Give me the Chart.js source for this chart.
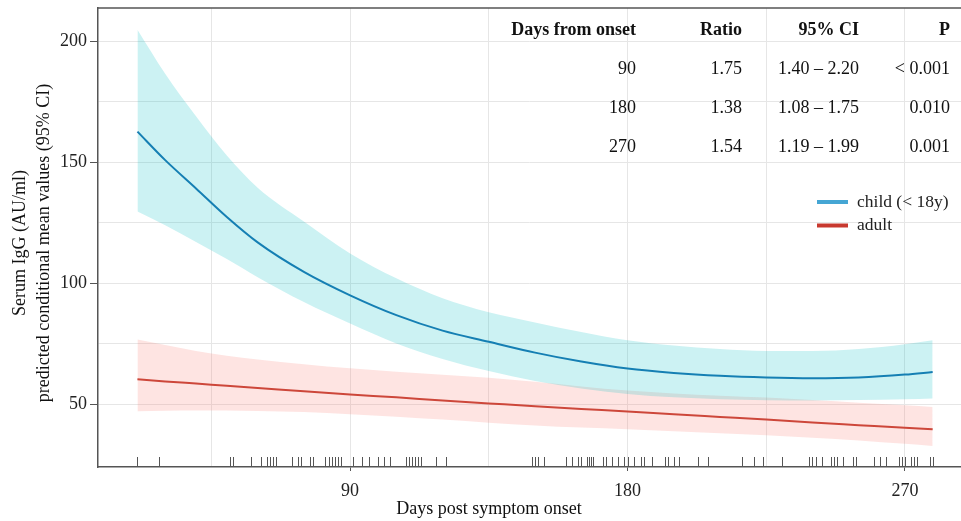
<!DOCTYPE html>
<html><head><meta charset="utf-8">
<script src="https://cdn.jsdelivr.net/npm/chart.js@4.4.1/dist/chart.umd.min.js"></script>
<style>html,body{margin:0;padding:0;background:#fff;}</style>
</head><body>
<canvas id="c" width="961" height="521"></canvas>
<script>
// ---- data ----
const days       = [21, 30, 40, 50, 60, 75, 90, 105, 120, 135, 150, 165, 180, 195, 210, 225, 240, 255, 270, 279];
const childMean  = [162.7, 150.9, 139.2, 127.4, 116.9, 104.7, 95.0, 86.8, 80.4, 75.8, 71.3, 67.6, 64.7, 62.9, 61.7, 61.0, 60.7, 61.0, 62.2, 63.3];
const childUpper = [204.8, 186.6, 169.0, 152.8, 139.5, 125.5, 112.3, 102.0, 93.8, 88.0, 83.8, 79.8, 76.4, 74.2, 72.8, 72.0, 72.0, 72.8, 74.8, 76.4];
const childLower = [129.6, 124.0, 117.0, 110.0, 102.5, 92.2, 83.3, 75.1, 68.7, 63.7, 59.6, 56.5, 54.2, 52.8, 52.0, 51.6, 51.5, 51.7, 52.0, 52.3];
const adultMean  = [60.3, 59.4, 58.5, 57.6, 56.7, 55.3, 54.0, 52.8, 51.5, 50.3, 49.1, 48.0, 47.0, 45.8, 44.7, 43.6, 42.4, 41.3, 40.2, 39.6];
const adultUpper = [76.7, 74.4, 72.0, 70.0, 68.5, 66.5, 64.8, 63.4, 62.1, 60.9, 59.2, 57.3, 55.6, 54.4, 53.5, 52.7, 51.7, 50.6, 49.5, 48.8];
const adultLower = [47.1, 47.3, 47.4, 47.4, 47.2, 46.7, 45.8, 44.8, 43.6, 42.3, 41.2, 40.3, 39.6, 38.8, 38.0, 37.1, 36.1, 35.0, 33.6, 32.7];
const rugDays = [21, 28, 51, 52, 58, 61, 63, 64, 65, 66, 71, 73, 74, 77, 78, 82, 83, 84, 85, 86, 87, 91, 94, 96, 99, 101, 103,
                 108, 109, 110, 111, 112, 113, 118, 121, 149, 150, 151, 153, 160, 162, 164, 165, 166.8, 167.4, 168.1, 168.7,
                 172, 173, 175, 177, 179, 180, 182, 184.3, 185.3, 188, 192.1, 193, 195, 196.7, 203, 206, 217, 221, 224, 230,
                 239, 240, 241, 243, 246, 247, 248, 250, 253, 254, 260, 262, 264, 268, 269, 270, 272, 273, 274, 278, 279];
const xMajorTicks = [90, 180, 270];
const xMinorTicks = [45, 135, 225];
const yMajorTicks = [50, 100, 150, 200];
const yMinorTicks = [75, 125, 175];
const seriesNames = ['child (< 18y)', 'adult'];
const tableHeader = ['Days from onset', 'Ratio', '95% CI', 'P'];
const tableDays   = ['90', '180', '270'];
const tableRatio  = ['1.75', '1.38', '1.54'];
const tableCI     = ['1.40 – 2.20', '1.08 – 1.75', '1.19 – 1.99'];
const tableP      = ['< 0.001', '0.010', '0.001'];
const xTitle = 'Days post symptom onset';
const yTitle = ['Serum IgG (AU/ml)', 'predicted conditional mean values (95% CI)'];

// ---- styles ----
const SERIF = "'Liberation Serif', 'Times New Roman', serif";
const CHILD_LINE = '#1b70b0', ADULT_LINE = '#c23b2e';
const CHILD_LEG = '#45a6d4', ADULT_LEG = '#c8392f';
const CHILD_BAND = 'rgba(0,191,196,0.2)', ADULT_BAND = 'rgba(248,118,109,0.2)';
const AXIS = '#555555', GRID = '#e6e6e6', TXT = '#222222';

const pts = arr => days.map((d, i) => ({x: d, y: arr[i]}));
const band = (arr, color, fill) => ({data: pts(arr), borderColor: 'transparent', borderWidth: 0, pointRadius: 0,
  backgroundColor: color, fill: fill, cubicInterpolationMode: 'monotone'});
const noPad = s => { s.paddingTop = 0; s.paddingBottom = 0; s.paddingLeft = 0; s.paddingRight = 0; };

const overlay = {
  id: 'overlay',
  beforeDatasetsDraw(chart) {
    const {ctx, chartArea: a} = chart;
    ctx.save();
    ctx.strokeStyle = AXIS; ctx.lineWidth = 1.5;
    ctx.beginPath(); ctx.moveTo(a.left, a.top); ctx.lineTo(a.right, a.top); ctx.stroke();
    ctx.restore();
  },
  afterDraw(chart) {
    const {ctx, chartArea: a, scales: {x}} = chart;
    ctx.save();
    // rug
    ctx.strokeStyle = '#555'; ctx.lineWidth = 1;
    rugDays.forEach(d => {
      const px = Math.round(x.getPixelForValue(d)) + 0.5;
      ctx.beginPath(); ctx.moveTo(px, a.bottom - 10); ctx.lineTo(px, a.bottom); ctx.stroke();
    });
    // table
    const colRight = [636, 742, 859, 950];
    const rowY = [30, 69, 108, 147];
    ctx.fillStyle = '#111'; ctx.textAlign = 'right'; ctx.textBaseline = 'middle';
    ctx.font = 'bold 18px ' + SERIF;
    tableHeader.forEach((t, i) => ctx.fillText(t, colRight[i], rowY[0]));
    ctx.font = '18px ' + SERIF;
    [tableDays, tableRatio, tableCI, tableP].forEach((col, c) =>
      col.forEach((t, r) => ctx.fillText(t, colRight[c], rowY[r + 1])));
    // legend
    const legY = [202, 225.5];
    [CHILD_LEG, ADULT_LEG].forEach((col, i) => {
      ctx.strokeStyle = col; ctx.lineWidth = 4;
      ctx.beginPath(); ctx.moveTo(817, legY[i]); ctx.lineTo(848, legY[i]); ctx.stroke();
    });
    ctx.textAlign = 'left'; ctx.fillStyle = TXT; ctx.font = '17.5px ' + SERIF;
    seriesNames.forEach((t, i) => ctx.fillText(t, 857, legY[i]));
    // axis titles
    ctx.textAlign = 'center'; ctx.fillStyle = '#111'; ctx.font = '18px ' + SERIF;
    ctx.fillText(xTitle, 489, 509);
    const yc = 243;
    [20.5, 44].forEach((tx, i) => {
      ctx.save(); ctx.translate(tx, yc); ctx.rotate(-Math.PI / 2);
      ctx.fillText(yTitle[i], 0, 0); ctx.restore();
    });
    ctx.restore();
  }
};

new Chart(document.getElementById('c'), {
  type: 'line',
  data: {
    datasets: [
      band(childUpper, CHILD_BAND, '+1'),
      band(childLower, 'transparent', false),
      band(adultUpper, ADULT_BAND, '+1'),
      band(adultLower, 'transparent', false),
      {label: seriesNames[0], data: pts(childMean), borderColor: CHILD_LINE, borderWidth: 2, pointRadius: 0, fill: false, cubicInterpolationMode: 'monotone'},
      {label: seriesNames[1], data: pts(adultMean), borderColor: ADULT_LINE, borderWidth: 2, pointRadius: 0, fill: false, cubicInterpolationMode: 'monotone'}
    ]
  },
  options: {
    responsive: false, animation: false, devicePixelRatio: 1,
    layout: {padding: {top: 8, right: 0, left: 0, bottom: 0}},
    plugins: {legend: {display: false}, tooltip: {enabled: false}},
    scales: {
      x: {
        type: 'linear', min: 8.2, max: 288.2,
        afterBuildTicks: s => { s.ticks = xMinorTicks.concat(xMajorTicks).sort((a, b) => a - b).map(v => ({value: v})); },
        afterFit: s => { s.height = 54; noPad(s); },
        ticks: {callback: v => xMajorTicks.includes(v) ? String(v) : '', font: {family: SERIF, size: 18}, color: TXT, padding: 9, maxRotation: 0, autoSkip: false},
        grid: {color: GRID, lineWidth: 1, tickLength: 4,
               tickColor: c => (c.tick && xMajorTicks.includes(c.tick.value)) ? AXIS : 'rgba(0,0,0,0)'},
        border: {display: true, color: AXIS, width: 1.5}
      },
      y: {
        type: 'linear', min: 24, max: 213.8,
        afterBuildTicks: s => { s.ticks = yMinorTicks.concat(yMajorTicks).sort((a, b) => a - b).map(v => ({value: v})); },
        afterFit: s => { s.width = 98; noPad(s); },
        ticks: {callback: v => yMajorTicks.includes(v) ? String(v) : '', font: {family: SERIF, size: 18}, color: TXT, padding: 3, autoSkip: false},
        grid: {color: GRID, lineWidth: 1, tickLength: 8,
               tickColor: c => (c.tick && yMajorTicks.includes(c.tick.value)) ? AXIS : 'rgba(0,0,0,0)'},
        border: {display: true, color: AXIS, width: 1.5}
      }
    }
  },
  plugins: [overlay]
});
</script>
</body></html>
